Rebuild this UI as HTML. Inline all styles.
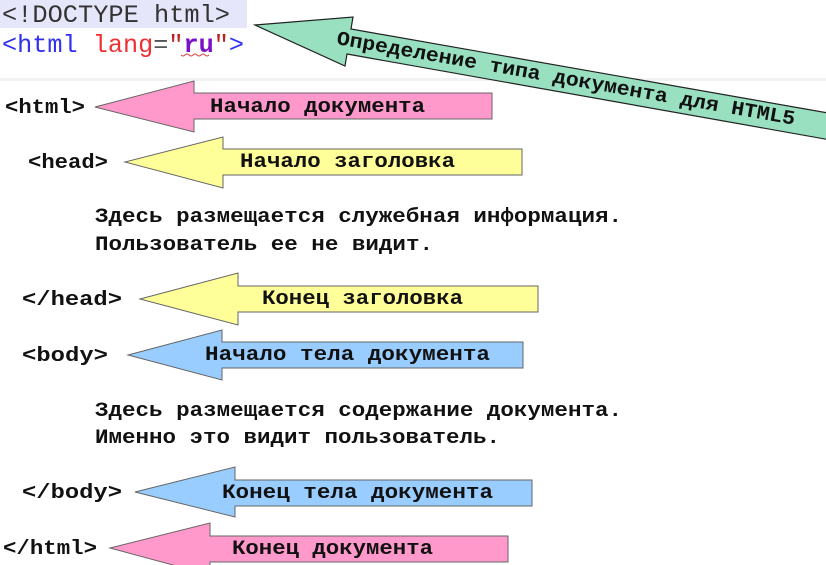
<!DOCTYPE html>
<html><head><meta charset="utf-8"><style>
body{margin:0;background:#fff;width:826px;height:565px;overflow:hidden}
svg{display:block}
.m{font-family:"Liberation Mono","DejaVu Sans Mono",monospace}
.b{font-weight:bold;font-size:20px;fill:#111}
</style></head><body>
<svg width="826" height="565" viewBox="0 0 826 565" xmlns="http://www.w3.org/2000/svg">
<rect x="0" y="78" width="826" height="3" fill="#f2f2f2"/>
<rect x="0" y="0" width="247" height="28" fill="#e6e6fa"/>
<text class="m" x="2" y="22" font-size="25" fill="#333" textLength="228" lengthAdjust="spacingAndGlyphs">&lt;!DOCTYPE html&gt;</text>
<text class="m" x="2" y="52" font-size="25" textLength="242" lengthAdjust="spacingAndGlyphs"><tspan fill="#3030f0">&lt;html </tspan><tspan fill="#f03030">lang</tspan><tspan fill="#555">=</tspan><tspan fill="#c02020">"</tspan><tspan fill="#7a10c8" font-weight="bold">ru</tspan><tspan fill="#c02020">"</tspan><tspan fill="#3030f0">&gt;</tspan></text>
<path d="M181 55 q2 2 4 0 q2 -2 4 0 q2 2 4 0 q2 -2 4 0 q2 2 4 0 q2 -2 4 0 q2 2 4 0" stroke="#e04040" fill="none" stroke-width="1"/>

<!-- green rotated arrow -->
<polygon points="255,25 353,17 351,29 902,126 898,152 347,54 345,66" fill="#98e0c0" stroke="#222" stroke-width="1.2"/>
<text class="m b" transform="translate(336,44) rotate(10)" textLength="465" lengthAdjust="spacingAndGlyphs" font-size="19">Определение типа документа для HTML5</text>

<g stroke="#666" stroke-width="1">
<polygon points="95,107 194,81 194,93 492,93 492,119 194,119 194,132" fill="#ff99cc"/>
<polygon points="125,162 223,137 223,149 522,149 522,175 223,175 223,188" fill="#ffff99"/>
<polygon points="140,299 238,273 238,286 538,286 538,312 238,312 238,325" fill="#ffff99"/>
<polygon points="128,355 222,330 222,342 523,342 523,368 222,368 222,380" fill="#99ccff"/>
<polygon points="135,492 235,467 235,480 532,480 532,506 235,506 235,517" fill="#99ccff"/>
<polygon points="110,548 210,523 210,536 508,536 508,562 210,562 210,575" fill="#ff99cc"/>
</g>

<text class="m b" x="5" y="113" textLength="80" lengthAdjust="spacingAndGlyphs">&lt;html&gt;</text>
<text class="m b" x="28" y="168" textLength="80" lengthAdjust="spacingAndGlyphs">&lt;head&gt;</text>
<text class="m b" x="22" y="305" textLength="100" lengthAdjust="spacingAndGlyphs">&lt;/head&gt;</text>
<text class="m b" x="22" y="361" textLength="86" lengthAdjust="spacingAndGlyphs">&lt;body&gt;</text>
<text class="m b" x="22" y="498" textLength="100" lengthAdjust="spacingAndGlyphs">&lt;/body&gt;</text>
<text class="m b" x="3" y="554" textLength="94" lengthAdjust="spacingAndGlyphs">&lt;/html&gt;</text>

<text class="m b" x="210" y="112" textLength="215" lengthAdjust="spacingAndGlyphs">Начало документа</text>
<text class="m b" x="240" y="167" textLength="215" lengthAdjust="spacingAndGlyphs">Начало заголовка</text>
<text class="m b" x="262" y="304" textLength="201" lengthAdjust="spacingAndGlyphs">Конец заголовка</text>
<text class="m b" x="205" y="360" textLength="285" lengthAdjust="spacingAndGlyphs">Начало тела документа</text>
<text class="m b" x="222" y="498" textLength="271" lengthAdjust="spacingAndGlyphs">Конец тела документа</text>
<text class="m b" x="232" y="554" textLength="201" lengthAdjust="spacingAndGlyphs">Конец документа</text>

<text class="m b" x="95" y="222" textLength="527" lengthAdjust="spacingAndGlyphs">Здесь размещается служебная информация.</text>
<text class="m b" x="95" y="250" textLength="338" lengthAdjust="spacingAndGlyphs">Пользователь ее не видит.</text>
<text class="m b" x="95" y="416" textLength="527" lengthAdjust="spacingAndGlyphs">Здесь размещается содержание документа.</text>
<text class="m b" x="95" y="443" textLength="405" lengthAdjust="spacingAndGlyphs">Именно это видит пользователь.</text>
</svg>
</body></html>
